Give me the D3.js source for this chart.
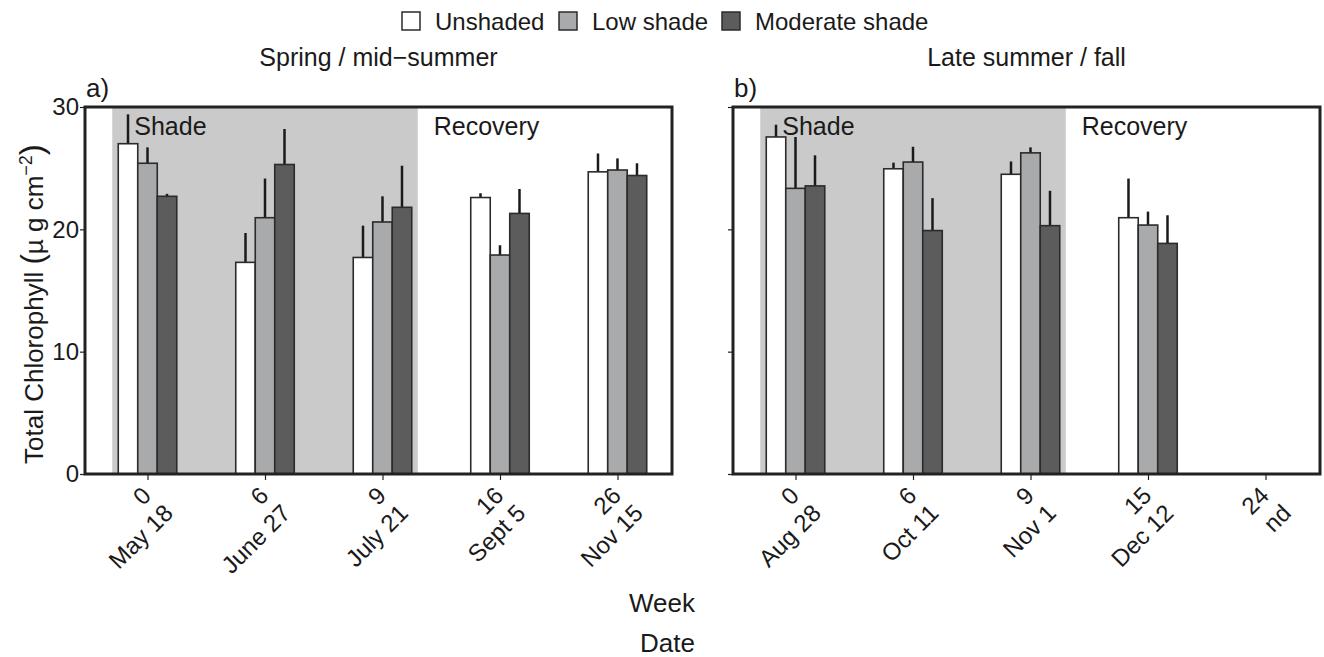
<!DOCTYPE html>
<html>
<head>
<meta charset="utf-8">
<script src="https://cdn.jsdelivr.net/npm/d3@7"></script>
<style>
  body { margin: 0; background: #fff; }
  text { font-family: "Liberation Sans", Arial, Helvetica, sans-serif; fill: #1a1a1a; }
</style>
</head>
<body>
<div id="chart"></div>
<script>
// Data
const treatments = ["Unshaded", "Low shade", "Moderate shade"];

const weeksA = ["0", "6", "9", "16", "26"];
const datesA = ["May 18", "June 27", "July 21", "Sept 5", "Nov 15"];
const weeksB = ["0", "6", "9", "15", "24"];
const datesB = ["Aug 28", "Oct 11", "Nov 1", "Dec 12", "nd"];

// means (µg cm-2), null = no data
const unshadedA = [27.0, 17.3, 17.7, 22.6, 24.7];
const lowA      = [25.4, 20.95, 20.6, 17.9, 24.85];
const moderateA = [22.7, 25.3, 21.8, 21.3, 24.4];
const unshadedB = [27.55, 24.95, 24.5, 20.95, null];
const lowB      = [23.35, 25.5, 26.25, 20.35, null];
const moderateB = [23.55, 19.9, 20.3, 18.85, null];

// error bar (upper) lengths
const unshadedErrA = [2.4, 2.4, 2.6, 0.35, 1.5];
const lowErrA      = [1.3, 3.2, 2.1, 0.8, 0.95];
const moderateErrA = [0.2, 2.9, 3.4, 2.0, 1.0];
const unshadedErrB = [1.0, 0.5, 1.05, 3.2, null];
const lowErrB      = [4.2, 1.25, 0.45, 1.1, null];
const moderateErrB = [2.5, 2.65, 2.85, 2.3, null];

const yTicks = [0, 10, 20, 30];

const colors = { "Unshaded": "#ffffff", "Low shade": "#a9aaac", "Moderate shade": "#5c5c5c" };

const svg = d3.select("#chart").append("svg")
    .attr("width", 1324)
    .attr("height", 657);

const pw = 587, ph = 367, panelTop = 107;

const y = d3.scaleLinear().domain([0, 30]).range([ph, 0]);
const x = d3.scaleLinear().domain([-0.532, 4.464]).range([0, pw]);
const x1 = d3.scaleBand().domain(treatments).range([-29.25, 29.25]);

function panel(left, letter, title, weeks, dates, series, errs, showLabels) {
    const g = svg.append("g").attr("transform", `translate(${left},${panelTop})`);

    // shade period background
    g.append("rect")
        .attr("x", x(-0.3)).attr("y", 0)
        .attr("width", x(2.3) - x(-0.3)).attr("height", ph)
        .attr("fill", "#c9cac9");

    g.append("text").attr("x", x(-0.3) + 22).attr("y", 28)
        .attr("font-size", 25).text("Shade");
    g.append("text").attr("x", x(2.3) + 16).attr("y", 28)
        .attr("font-size", 25).text("Recovery");

    // bars + error bars
    treatments.forEach((t, k) => {
        series[k].forEach((v, i) => {
            if (v == null) return;
            const bx = x(i) + x1(t);
            g.append("line")
                .attr("x1", bx + x1.bandwidth() / 2).attr("x2", bx + x1.bandwidth() / 2)
                .attr("y1", y(v)).attr("y2", y(v + errs[k][i]))
                .attr("stroke", "#1a1a1a").attr("stroke-width", 2.5);
            g.append("rect")
                .attr("x", bx).attr("y", y(v))
                .attr("width", x1.bandwidth()).attr("height", ph - y(v))
                .attr("fill", colors[t])
                .attr("stroke", "#2b2b2b").attr("stroke-width", 1.6);
        });
    });

    // frame
    g.append("rect").attr("x", 0).attr("y", 0).attr("width", pw).attr("height", ph)
        .attr("fill", "none").attr("stroke", "#222").attr("stroke-width", 3);

    // y axis
    const yAxis = g.append("g")
        .call(d3.axisLeft(y).tickValues(yTicks).tickSize(5).tickFormat(showLabels ? d3.format("d") : ""));
    yAxis.select(".domain").remove();
    yAxis.selectAll("line").attr("stroke", "#222").attr("stroke-width", 1.2);
    yAxis.selectAll("text").attr("font-size", 24).attr("x", -6).attr("fill", "#1a1a1a")
        .attr("font-family", "Liberation Sans, Arial, sans-serif");

    // x axis
    const xAxis = g.append("g").attr("transform", `translate(0,${ph})`)
        .call(d3.axisBottom(x).tickValues(d3.range(weeks.length)).tickSize(6).tickFormat(""));
    xAxis.select(".domain").remove();
    xAxis.selectAll("line").attr("stroke", "#222").attr("stroke-width", 1.2);

    weeks.forEach((w, i) => {
        const lab = g.append("text")
            .attr("transform", `translate(${x(i) + 5},${ph + 23}) rotate(-45)`)
            .attr("text-anchor", "end")
            .attr("font-size", 24);
        lab.append("tspan").attr("x", 0).attr("y", 0).text(w);
        lab.append("tspan").attr("x", 3).attr("y", 28).text(dates[i]);
    });

    // panel letter and title
    g.append("text").attr("x", 1).attr("y", -10).attr("font-size", 26).text(letter);
    g.append("text").attr("x", pw / 2 + 0).attr("y", -41)
        .attr("text-anchor", "middle").attr("font-size", 25).text(title);
}

panel(85, "a)", "Spring / mid\u2212summer", weeksA, datesA,
    [unshadedA, lowA, moderateA], [unshadedErrA, lowErrA, moderateErrA], true);
panel(733, "b)", "Late summer / fall", weeksB, datesB,
    [unshadedB, lowB, moderateB], [unshadedErrB, lowErrB, moderateErrB], false);

// y axis title
const yt = svg.append("text")
    .attr("transform", "translate(43,464) rotate(-90)")
    .attr("font-size", 26);
yt.append("tspan").text("Total Chlorophyll  ");
yt.append("tspan").attr("font-size", 31).text("(");
yt.append("tspan").text("\u00b5 g cm");
yt.append("tspan").attr("dy", -11).attr("font-size", 18).text("\u22122");
yt.append("tspan").attr("dy", 11).attr("font-size", 33).text(")");

// x axis titles
svg.append("text").attr("x", 695).attr("y", 612).attr("text-anchor", "end")
    .attr("font-size", 26).text("Week");
svg.append("text").attr("x", 695).attr("y", 652).attr("text-anchor", "end")
    .attr("font-size", 26).text("Date");

// legend
const legendX = [402, 559, 722];
const legend = svg.append("g");
treatments.forEach((t, i) => {
    legend.append("rect")
        .attr("x", legendX[i]).attr("y", 12)
        .attr("width", 18).attr("height", 18)
        .attr("fill", colors[t]).attr("stroke", "#2b2b2b").attr("stroke-width", 1.5);
    legend.append("text")
        .attr("x", legendX[i] + 33).attr("y", 30)
        .attr("font-size", 24).text(t);
});
</script>
</body>
</html>
